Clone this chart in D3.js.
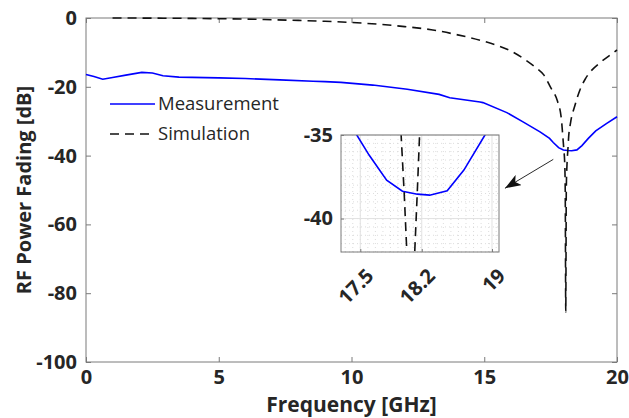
<!DOCTYPE html>
<html>
<head>
<meta charset="utf-8">
<script src="https://cdn.jsdelivr.net/npm/d3@7"></script>
<style>
  body { margin: 0; background: #fff; }
  text { font-family: "Open Sans", sans-serif; }
</style>
</head>
<body>
<script>
const width = 629, height = 418;
const margin = { top: 18, right: 12, bottom: 56, left: 86 };

// measured RF power fading (blue)
const measFreq = [0, 0.3, 0.63, 1.0, 1.5, 2.1, 2.5, 2.9, 3.5, 5, 6, 7.3, 8.55, 9.0, 9.6, 10.8, 12.1, 13.3, 13.7, 14.84, 14.95, 15.85, 16.46, 17.1, 17.46, 17.6, 17.8, 17.98, 18.15, 18.29, 18.49, 18.68, 18.92, 19.2, 19.6, 20];
const measDb = [-16.4, -17.0, -17.8, -17.3, -16.6, -15.8, -16.0, -16.8, -17.2, -17.4, -17.6, -18.0, -18.4, -18.5, -18.7, -19.5, -20.7, -22.2, -23.2, -24.4, -24.6, -27.5, -30.2, -33.1, -35.0, -36.2, -37.7, -38.36, -38.54, -38.6, -38.34, -37.1, -35.0, -32.8, -30.7, -28.7];

// simulated RF power fading (black dashed)
const simFreq = [1, 2, 3, 4, 5, 6, 7, 8, 9, 10, 11, 12, 13, 14, 15, 15.5, 16, 16.5, 17, 17.25, 17.5, 17.75, 17.9, 17.965, 18.0, 18.03, 18.05, 18.07, 18.09, 18.12, 18.15, 18.175, 18.25, 18.42, 18.6, 18.8, 19.0, 19.36, 19.7, 20];
const simDb = [0, -0.02, -0.06, -0.12, -0.2, -0.3, -0.5, -0.7, -0.95, -1.3, -1.8, -2.5, -3.4, -4.9, -6.8, -8.0, -9.6, -11.9, -14.8, -16.6, -20.2, -24.0, -29.0, -35.0, -38.5, -42.0, -50, -85.5, -50, -42.0, -38.3, -35.0, -30.5, -25.3, -21.0, -17.8, -15.6, -13.0, -11.0, -9.3];

const xTicks = [0, 5, 10, 15, 20];
const yTicks = [0, -20, -40, -60, -80, -100];
const insetXTicks = [17.5, 18.2, 19];
const insetYTicks = [-35, -40];

const axisColor = "#7a7a7a", labelColor = "#262626";

const svg = d3.select("body").append("svg")
    .attr("width", width)
    .attr("height", height);

const x = d3.scaleLinear().domain([0, 20]).range([margin.left, width - margin.right]);
const y = d3.scaleLinear().domain([-100, 0]).range([height - margin.bottom, margin.top]);

const line = d3.line().x(d => x(d[0])).y(d => y(d[1]));
const simLine = d3.line().x(d => x(d[0])).y(d => y(d[1])).curve(d3.curveMonotoneX);
const measData = measFreq.map((f, i) => [f, measDb[i]]);
const simData = simFreq.map((f, i) => [f, simDb[i]]);

function styleAxis(g, showText) {
    g.select(".domain").remove();
    g.selectAll(".tick line").attr("stroke", axisColor);
    g.selectAll(".tick text")
        .attr("fill", labelColor)
        .style("font-size", "20px")
        .style("font-weight", "bold");
    if (!showText) g.selectAll(".tick text").remove();
}

// main axes
svg.append("g")
    .attr("transform", `translate(0,${y(-100)})`)
    .call(d3.axisBottom(x).tickValues(xTicks).tickSize(-5).tickPadding(8).tickFormat(d3.format("d")))
    .call(g => styleAxis(g, true));
svg.append("g")
    .attr("transform", `translate(0,${y(0)})`)
    .call(d3.axisTop(x).tickValues(xTicks).tickSize(-5))
    .call(g => styleAxis(g, false));
svg.append("g")
    .attr("transform", `translate(${x(0)},0)`)
    .call(d3.axisLeft(y).tickValues(yTicks).tickSize(-5).tickPadding(9).tickFormat(d => d === 0 ? "0" : "-" + Math.abs(d)))
    .call(g => styleAxis(g, true));
svg.append("g")
    .attr("transform", `translate(${x(20)},0)`)
    .call(d3.axisRight(y).tickValues(yTicks).tickSize(-5))
    .call(g => styleAxis(g, false));

svg.append("rect")
    .attr("x", x(0)).attr("y", y(0))
    .attr("width", x(20) - x(0)).attr("height", y(-100) - y(0))
    .attr("fill", "none").attr("stroke", axisColor).attr("stroke-width", 1);

svg.append("path").datum(measData)
    .attr("d", line)
    .attr("fill", "none").attr("stroke", "#0000ff").attr("stroke-width", 1.6);
svg.append("path").datum(simData)
    .attr("d", simLine)
    .attr("fill", "none").attr("stroke", "#111").attr("stroke-width", 1.6)
    .attr("stroke-dasharray", "9,6");

// axis titles
svg.append("text")
    .attr("x", (x(0) + x(20)) / 2).attr("y", 412)
    .attr("text-anchor", "middle")
    .attr("fill", labelColor)
    .style("font-size", "21px").style("font-weight", "bold")
    .text("Frequency [GHz]");
svg.append("text")
    .attr("transform", `translate(31,${(y(0) + y(-100)) / 2}) rotate(-90)`)
    .attr("text-anchor", "middle")
    .attr("fill", labelColor)
    .style("font-size", "20px").style("font-weight", "bold")
    .text("RF Power Fading [dB]");

// legend
const legend = svg.append("g");
const legendItems = [
    { name: "Measurement", color: "#0000ff", dash: null, y: 104 },
    { name: "Simulation", color: "#111", dash: "9,6", y: 134 }
];
legendItems.forEach(d => {
    legend.append("line")
        .attr("x1", 110).attr("x2", 155).attr("y1", d.y).attr("y2", d.y)
        .attr("stroke", d.color).attr("stroke-width", 1.6)
        .attr("stroke-dasharray", d.dash);
    legend.append("text")
        .attr("x", 158).attr("y", d.y + 6)
        .attr("fill", labelColor)
        .style("font-size", "18.5px")
        .text(d.name);
});

// arrow pointing to inset
svg.append("defs").append("marker")
    .attr("id", "arrowhead")
    .attr("viewBox", "0 0 16 12")
    .attr("refX", 16).attr("refY", 6)
    .attr("markerWidth", 16).attr("markerHeight", 12)
    .attr("markerUnits", "userSpaceOnUse")
    .attr("orient", "auto")
    .append("path")
    .attr("d", "M0,0 L16,6 L0,12 L4,6 Z")
    .attr("fill", "#111");
svg.append("line")
    .attr("x1", x(17.6)).attr("y1", y(-41.1))
    .attr("x2", x(15.78)).attr("y2", y(-49.5))
    .attr("stroke", "#111").attr("stroke-width", 0.9)
    .attr("marker-end", "url(#arrowhead)");

// inset
const ix = d3.scaleLinear().domain([17.28, 19.08]).range([341, 499]);
const iy = d3.scaleLinear().domain([-42, -35]).range([252, 135]);
const inset = svg.append("g");

inset.append("rect")
    .attr("x", ix.range()[0]).attr("y", iy.range()[1])
    .attr("width", ix.range()[1] - ix.range()[0]).attr("height", iy.range()[0] - iy.range()[1])
    .attr("fill", "#fff");

svg.select("defs").append("clipPath").attr("id", "insetClip")
    .append("rect")
    .attr("x", ix.range()[0]).attr("y", iy.range()[1])
    .attr("width", ix.range()[1] - ix.range()[0]).attr("height", iy.range()[0] - iy.range()[1]);

const minorX = d3.range(17.5 - 0.086 * 2, 19.08, 0.086);
const minorY = d3.range(-42, -35, 0.5);
inset.selectAll(".minor-x").data(minorX).join("line")
    .attr("x1", d => ix(d)).attr("x2", d => ix(d))
    .attr("y1", iy(-42)).attr("y2", iy(-35))
    .attr("stroke", "#d4d4d4").attr("stroke-width", 0.8).attr("stroke-dasharray", "1,3");
inset.selectAll(".minor-y").data(minorY).join("line")
    .attr("x1", ix(17.28)).attr("x2", ix(19.08))
    .attr("y1", d => iy(d)).attr("y2", d => iy(d))
    .attr("stroke", "#d4d4d4").attr("stroke-width", 0.8).attr("stroke-dasharray", "1,3");
inset.selectAll(".major-x").data(insetXTicks).join("line")
    .attr("x1", d => ix(d)).attr("x2", d => ix(d))
    .attr("y1", iy(-42)).attr("y2", iy(-35))
    .attr("stroke", "#e2e2e2").attr("stroke-width", 1);
inset.selectAll(".major-y").data(insetYTicks).join("line")
    .attr("x1", ix(17.28)).attr("x2", ix(19.08))
    .attr("y1", d => iy(d)).attr("y2", d => iy(d))
    .attr("stroke", "#e2e2e2").attr("stroke-width", 1);

const iline = d3.line().x(d => ix(d[0])).y(d => iy(d[1]));
const clipped = inset.append("g").attr("clip-path", "url(#insetClip)");
clipped.append("path").datum(measData)
    .attr("d", iline)
    .attr("fill", "none").attr("stroke", "#0000ff").attr("stroke-width", 1.6);
clipped.append("path").datum(simData)
    .attr("d", iline)
    .attr("fill", "none").attr("stroke", "#111").attr("stroke-width", 1.6)
    .attr("stroke-dasharray", "9,6");

inset.append("g")
    .attr("transform", `translate(0,${iy(-42)})`)
    .call(d3.axisBottom(ix).tickValues(insetXTicks).tickSize(-3).tickFormat(d => d))
    .call(g => styleAxis(g, true))
    .call(g => g.selectAll(".tick text")
        .attr("text-anchor", "end")
        .attr("dy", null)
        .attr("transform", "translate(12,23) rotate(-45)"));
inset.append("g")
    .attr("transform", `translate(${ix(17.28)},0)`)
    .call(d3.axisLeft(iy).tickValues(insetYTicks).tickSize(-3).tickPadding(8).tickFormat(d => d))
    .call(g => styleAxis(g, true));

inset.append("rect")
    .attr("x", ix.range()[0]).attr("y", iy.range()[1])
    .attr("width", ix.range()[1] - ix.range()[0]).attr("height", iy.range()[0] - iy.range()[1])
    .attr("fill", "none").attr("stroke", axisColor).attr("stroke-width", 1);
</script>
</body>
</html>
